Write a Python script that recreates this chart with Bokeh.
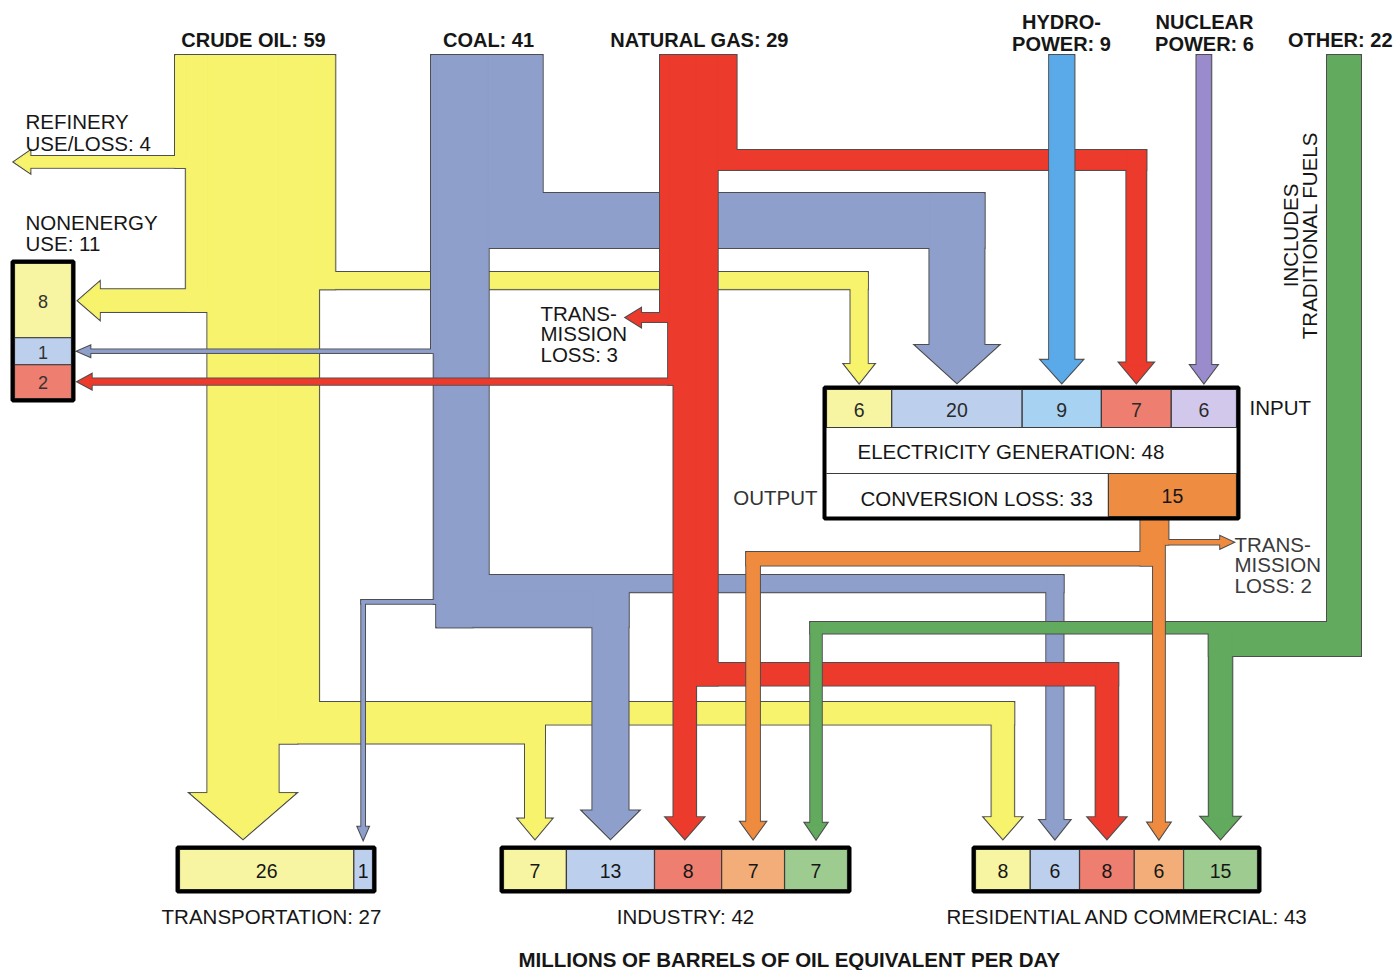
import math
from bokeh.plotting import figure
from bokeh.models import Range1d
from bokeh.embed import file_html
from bokeh.resources import INLINE
from bokeh.core.properties import value

# ---------------- data (millions of barrels of oil equivalent per day) ----------------
SOURCE_KEYS   = ["oil", "coal", "gas", "hydro", "nuclear", "other"]
SOURCE_LABELS = [["CRUDE OIL: 59"], ["COAL: 41"], ["NATURAL GAS: 29"],
                 ["HYDRO-", "POWER: 9"], ["NUCLEAR", "POWER: 6"], ["OTHER: 22"]]
SOURCE_TOTALS = [59, 41, 29, 9, 6, 22]

OIL_TO     = {"refinery": 4, "nonenergy": 8, "transportation": 26, "industry": 7, "residential": 8, "electricity": 6}
COAL_TO    = {"nonenergy": 1, "transportation": 1, "industry": 13, "residential": 6, "electricity": 20}
GAS_TO     = {"transmission": 3, "nonenergy": 2, "industry": 8, "residential": 8, "electricity": 7}
HYDRO_TO   = {"electricity": 9}
NUCLEAR_TO = {"electricity": 6}
OTHER_TO   = {"industry": 7, "residential": 15}
ELEC_TO    = {"industry": 7, "residential": 6, "transmission": 2}

ELECTRICITY_GENERATION = 48
CONVERSION_LOSS = 33
ELECTRICITY_OUTPUT = 15
REFINERY_LOSS = 4
NONENERGY_USE = 11
TRANSPORTATION_TOTAL = 27
INDUSTRY_TOTAL = 42
RESIDENTIAL_TOTAL = 43
GAS_TRANSMISSION_LOSS = 3
ELEC_TRANSMISSION_LOSS = 2

ELEC_INPUT_KEYS  = ["oil", "coal", "hydro", "gas", "nuclear"]
TRANSPORT_KEYS   = ["oil", "coal"]
INDUSTRY_KEYS    = ["oil", "coal", "gas", "elec", "other"]
RESIDENTIAL_KEYS = ["oil", "coal", "gas", "elec", "other"]
NONENERGY_KEYS   = ["oil", "coal", "gas"]

FLOWS = {"oil": OIL_TO, "coal": COAL_TO, "gas": GAS_TO, "hydro": HYDRO_TO,
         "nuclear": NUCLEAR_TO, "other": OTHER_TO, "elec": ELEC_TO}

# ---------------- styles ----------------
FLOW_COLOR = {"oil": "#F7F36C", "coal": "#8E9FCC", "gas": "#EC3A2C", "hydro": "#5AAAEA",
              "nuclear": "#9A8CCC", "other": "#62AA5E", "elec": "#EF8B3E"}
CELL_COLOR = {"oil": "#F7F5A2", "coal": "#BCD0EE", "gas": "#EE7E70", "hydro": "#A8D2F2",
              "nuclear": "#D2C8EC", "other": "#9ECB90", "elec": "#F2AD78"}
OUTPUT_CELL_COLOR = "#EE8C42"
OUTLINE = "#4E4E4E"
FONT = value("Liberation Sans")
LABEL_SIZE = "20.5px"

# ---------------- layout ----------------
SCALE = {"oil": 2.7, "coal": 2.7, "gas": 2.7, "hydro": 2.7, "nuclear": 2.3, "other": 1.5, "elec": 1.8}
COLUMN_LEFT = {"oil": 175, "coal": 431, "gas": 660, "other": 1327}
TOP = 55
TIP_BOTTOM, TIP_ELEC, TIP_NONENERGY, TIP_REFINERY = 838, 382, 78, 14
TIP_GAS_LOSS, TIP_ELEC_LOSS = 626, 1232
BOX = {"transportation": (175, 376, 845, 893), "industry": (499, 851, 845, 893),
       "residential": (971, 1261, 845, 893), "electricity": (822, 1240, 385, 520),
       "nonenergy": (10, 75, 259, 402)}
PAD = {"transportation": 2, "industry": 8, "residential": 12, "electricity": 8, "nonenergy": 3}

W, H = 1395, 970
p = figure(width=W, height=H, x_range=Range1d(0, W), y_range=Range1d(H, 0),
           output_backend="svg", toolbar_location=None, min_border=0,
           x_axis_location=None, y_axis_location=None)
p.grid.visible = False
p.outline_line_color = None
p.background_fill_color = "white"
p.border_fill_color = "white"


def split(lo, hi, vals, pad):
    wts = [v + pad for v in vals]
    tot = float(sum(wts))
    edges = [lo]
    for w in wts:
        edges.append(edges[-1] + (hi - lo) * w / tot)
    return edges


def inner(b):
    return b[0] + 4, b[1] - 4, b[2] + 4, b[3] - 4


# cell edges, derived from values
CELLS = {}
for dest, keys in [("transportation", TRANSPORT_KEYS), ("industry", INDUSTRY_KEYS),
                   ("residential", RESIDENTIAL_KEYS)]:
    x0, x1, y0, y1 = inner(BOX[dest])
    vals = [FLOWS[k][dest] for k in keys]
    CELLS[dest] = (keys, vals, split(x0, x1, vals, PAD[dest]))
ex0, ex1, ey0, ey1 = inner(BOX["electricity"])
elec_vals = [FLOWS[k]["electricity"] for k in ELEC_INPUT_KEYS]
CELLS["electricity"] = (ELEC_INPUT_KEYS, elec_vals, split(ex0, ex1, elec_vals, PAD["electricity"]))
nx0, nx1, ny0, ny1 = inner(BOX["nonenergy"])
ne_vals = [FLOWS[k]["nonenergy"] for k in NONENERGY_KEYS]
CELLS["nonenergy"] = (NONENERGY_KEYS, ne_vals, split(ny0, ny1, ne_vals, PAD["nonenergy"]))


def center(dest, src):
    keys, vals, e = CELLS[dest]
    i = keys.index(src)
    return (e[i] + e[i + 1]) / 2.0


def column(src, order, left=None):
    s = SCALE[src]
    x = COLUMN_LEFT[src] if left is None else left
    out = {}
    for k in order:
        w = FLOWS[src][k] * s
        out[k] = (x + w / 2.0, w)
        x += w
    return out


def flow(pts, w, head=True):
    polys = []
    pts = [list(q) for q in pts]
    n = len(pts)
    if head:
        (xa, ya), (xb, yb) = pts[-2], pts[-1]
        dx = (xb > xa) - (xb < xa)
        dy = (yb > ya) - (yb < ya)
        L = 10 + 0.5 * w
        wing = 3 + 0.2 * w
        bx, by = xb - dx * L, yb - dy * L
        pts[-1] = [bx + dx * 2.0, by + dy * 2.0]
        hw = w / 2.0 + wing
        if dx == 0:
            polys.append(([bx - hw, bx + hw, xb], [by, by, yb]))
        else:
            polys.append(([bx, bx, xb], [by - hw, by + hw, yb]))
    for i in range(n - 1):
        (x0, y0), (x1, y1) = pts[i], pts[i + 1]
        e0 = w / 2.0 if i > 0 else 0
        e1 = w / 2.0 if i < n - 2 else 0
        if abs(x0 - x1) < 1e-9:
            d = 1 if y1 > y0 else -1
            a, b = y0 - d * e0, y1 + d * e1
            polys.append(([x0 - w / 2, x0 + w / 2, x0 + w / 2, x0 - w / 2], [a, a, b, b]))
        else:
            d = 1 if x1 > x0 else -1
            a, b = x0 - d * e0, x1 + d * e1
            polys.append(([a, b, b, a], [y0 - w / 2, y0 - w / 2, y0 + w / 2, y0 + w / 2]))
    return polys


def draw(polys, color):
    xs = [q[0] for q in polys]
    ys = [q[1] for q in polys]
    p.patches(xs=xs, ys=ys, fill_alpha=0, line_color=OUTLINE, line_width=3, line_join="miter")
    p.patches(xs=xs, ys=ys, fill_color=color, line_color=color, line_width=1)


# ---------------- crude oil ----------------
c = column("oil", ["refinery", "nonenergy", "transportation", "industry", "residential", "electricity"])
P = []
xc, w = c["refinery"]; yc = 156 + w / 2
P += flow([(xc, TOP), (xc, yc), (TIP_REFINERY, yc)], w)
xc, w = c["nonenergy"]; yc = center("nonenergy", "oil")
P += flow([(xc, TOP), (xc, yc), (TIP_NONENERGY, yc)], w)
xc, w = c["electricity"]; yc = 272 + w / 2; xd = center("electricity", "oil")
P += flow([(xc, TOP), (xc, yc), (xd, yc), (xd, TIP_ELEC)], w)
xc, w = c["transportation"]
P += flow([(xc, TOP), (xc, TIP_BOTTOM)], w)
xr, wr = c["residential"]; yr = 702 + wr / 2; xd = center("residential", "oil")
P += flow([(xr, TOP), (xr, yr), (xd, yr), (xd, TIP_BOTTOM)], wr)
xc, w = c["industry"]; yc = 702 + wr + w / 2; xd = center("industry", "oil")
P += flow([(xc, TOP), (xc, yc), (xd, yc), (xd, TIP_BOTTOM)], w)
draw(P, FLOW_COLOR["oil"])

# ---------------- coal ----------------
c = column("coal", ["nonenergy", "transportation", "industry", "residential", "electricity"])
P = []
xc, w = c["nonenergy"]; yc = center("nonenergy", "coal")
P += flow([(xc, TOP), (xc, yc), (TIP_NONENERGY, yc)], w)
xc, w = c["transportation"]; yc = 600 + w / 2; xd = center("transportation", "coal")
P += flow([(xc, TOP), (xc, yc), (xd, yc), (xd, TIP_BOTTOM)], w)
xr, wr = c["residential"]; yr = 575 + wr / 2; xd = center("residential", "coal")
P += flow([(xr, TOP), (xr, yr), (xd, yr), (xd, TIP_BOTTOM)], wr)
xc, w = c["industry"]; yc = 575 + wr + w / 2; xd = center("industry", "coal")
P += flow([(xc, TOP), (xc, yc), (xd, yc), (xd, TIP_BOTTOM)], w)
xc, w = c["electricity"]; yc = 193 + w / 2; xd = center("electricity", "coal")
P += flow([(xc, TOP), (xc, yc), (xd, yc), (xd, TIP_ELEC)], w)
draw(P, FLOW_COLOR["coal"])

# ---------------- natural gas ----------------
c = column("gas", ["transmission", "nonenergy", "industry", "residential", "electricity"])
P = []
xc, w = c["transmission"]; yc = 313 + w / 2
P += flow([(xc, TOP), (xc, yc), (TIP_GAS_LOSS, yc)], w)
xc, w = c["nonenergy"]; yc = center("nonenergy", "gas")
P += flow([(xc, TOP), (xc, yc), (TIP_NONENERGY, yc)], w)
xc, w = c["industry"]
P += flow([(xc, TOP), (xc, TIP_BOTTOM)], w)
xc, w = c["residential"]; yc = 663 + w / 2; xd = center("residential", "gas")
P += flow([(xc, TOP), (xc, yc), (xd, yc), (xd, TIP_BOTTOM)], w)
xc, w = c["electricity"]; yc = 150 + w / 2; xd = center("electricity", "gas")
P += flow([(xc, TOP), (xc, yc), (xd, yc), (xd, TIP_ELEC)], w)
draw(P, FLOW_COLOR["gas"])

# ---------------- hydro / nuclear ----------------
for src in ["hydro", "nuclear"]:
    xd = center("electricity", src)
    w = FLOWS[src]["electricity"] * SCALE[src]
    draw(flow([(xd, TOP), (xd, TIP_ELEC)], w), FLOW_COLOR[src])

# ---------------- other ----------------
c = column("other", ["industry", "residential"])
P = []
xi, wi = c["industry"]; yi = 622 + wi / 2; xd = center("industry", "other")
P += flow([(xi, TOP), (xi, yi), (xd, yi), (xd, TIP_BOTTOM)], wi)
xr, wr = c["residential"]; yr = 622 + wi + wr / 2; xd = center("residential", "other")
P += flow([(xr, TOP), (xr, yr), (xd, yr), (xd, TIP_BOTTOM)], wr)
draw(P, FLOW_COLOR["other"])

# ---------------- electricity output ----------------
s_e = SCALE["elec"]
left_e = center("residential", "elec") - (ELEC_TO["industry"] + ELEC_TO["residential"] / 2.0) * s_e
c = column("elec", ["industry", "residential", "transmission"], left=left_e)
ETOP = 505
P = []
xc, w = c["industry"]; yc = 552 + w / 2; xd = center("industry", "elec")
P += flow([(xc, ETOP), (xc, yc), (xd, yc), (xd, TIP_BOTTOM)], w)
xc, w = c["residential"]
P += flow([(xc, ETOP), (xc, TIP_BOTTOM)], w)
xc, w = c["transmission"]; yc = 540 + w / 2
P += flow([(xc, ETOP), (xc, yc), (TIP_ELEC_LOSS, yc)], w)
draw(P, FLOW_COLOR["elec"])


# ---------------- boxes ----------------
def texts(xs, ys, labels, size=LABEL_SIZE, bold=False, align="center", color="#161616", angle=0.0):
    p.text(x=xs, y=ys, text=labels, text_font=FONT, text_font_size=value(size),
           text_font_style="bold" if bold else "normal", text_align=align,
           text_baseline="middle", text_color=color, angle=angle)


def border(b):
    p.quad(left=[b[0] + 2], right=[b[1] - 2], top=[b[2] + 2], bottom=[b[3] - 2],
           fill_alpha=0, line_color="black", line_width=4)


for dest in ["transportation", "industry", "residential"]:
    keys, vals, e = CELLS[dest]
    x0, x1, y0, y1 = inner(BOX[dest])
    p.quad(left=e[:-1], right=e[1:], top=[y0] * len(vals), bottom=[y1] * len(vals),
           fill_color=[CELL_COLOR[k] for k in keys], line_color="#3C3C3C", line_width=1.2)
    texts([(e[i] + e[i + 1]) / 2 for i in range(len(vals))], [(y0 + y1) / 2 + 1] * len(vals),
          [str(v) for v in vals], size="19.5px")
    border(BOX[dest])

# electricity generation box
keys, vals, e = CELLS["electricity"]
row1, row2 = 427, 473
p.quad(left=[ex0], right=[ex1], top=[ey0], bottom=[ey1], fill_color="white", line_alpha=0)
p.quad(left=e[:-1], right=e[1:], top=[ey0] * len(vals), bottom=[row1] * len(vals),
       fill_color=[CELL_COLOR[k] for k in keys], line_color="#3C3C3C", line_width=1.2)
texts([(e[i] + e[i + 1]) / 2 for i in range(len(vals))], [(ey0 + row1) / 2 + 1] * len(vals),
      [str(v) for v in vals], size="19.5px", color="#2A2A2A")
out_left = ex1 - (ex1 - ex0) * ELECTRICITY_OUTPUT / float(ELECTRICITY_GENERATION)
p.segment(x0=[ex0], y0=[row2], x1=[ex1], y1=[row2], line_color="#3C3C3C", line_width=1.2)
p.quad(left=[out_left], right=[ex1], top=[row2], bottom=[ey1], fill_color=OUTPUT_CELL_COLOR,
       line_color="#3C3C3C", line_width=1.2)
texts([(out_left + ex1) / 2], [(row2 + ey1) / 2 + 1], [str(ELECTRICITY_OUTPUT)], size="19.5px")
texts([857], [451], ["ELECTRICITY GENERATION: %d" % ELECTRICITY_GENERATION], align="left")
texts([860], [498], ["CONVERSION LOSS: %d" % CONVERSION_LOSS], align="left")
border(BOX["electricity"])
texts([1249], [407], ["INPUT"], align="left")
texts([817], [497], ["OUTPUT"], align="right", color="#333333")

# nonenergy box (vertical cells)
keys, vals, e = CELLS["nonenergy"]
p.quad(left=[nx0] * len(vals), right=[nx1] * len(vals), top=e[:-1], bottom=e[1:],
       fill_color=[CELL_COLOR[k] for k in keys], line_color="#3C3C3C", line_width=1.2)
texts([(nx0 + nx1) / 2] * len(vals), [(e[i] + e[i + 1]) / 2 + 1 for i in range(len(vals))],
      [str(v) for v in vals], size="18px", color="#333333")
border(BOX["nonenergy"])

# ---------------- labels ----------------
texts([253, 488, 699], [39, 39, 39], [SOURCE_LABELS[0][0], SOURCE_LABELS[1][0], SOURCE_LABELS[2][0]],
      size="20px", bold=True)
texts([1061, 1061, 1204, 1204], [21, 43, 21, 43],
      [SOURCE_LABELS[3][0], SOURCE_LABELS[3][1], SOURCE_LABELS[4][0], SOURCE_LABELS[4][1]],
      size="20px", bold=True)
texts([1392], [39], [SOURCE_LABELS[5][0]], size="20px", bold=True, align="right")
texts([1290, 1309], [235, 235], ["INCLUDES", "TRADITIONAL FUELS"], angle=math.pi / 2)

texts([25, 25], [121, 143], ["REFINERY", "USE/LOSS: %d" % REFINERY_LOSS], align="left")
texts([25, 25], [222, 243], ["NONENERGY", "USE: %d" % NONENERGY_USE], align="left")
texts([540, 540, 540], [313, 333, 354], ["TRANS-", "MISSION", "LOSS: %d" % GAS_TRANSMISSION_LOSS],
      align="left")
texts([1234, 1234, 1234], [544, 564, 585], ["TRANS-", "MISSION", "LOSS: %d" % ELEC_TRANSMISSION_LOSS],
      align="left", color="#3A3A3A")

texts([271, 685, 1127], [916, 916, 916],
      ["TRANSPORTATION: %d" % TRANSPORTATION_TOTAL, "INDUSTRY: %d" % INDUSTRY_TOTAL,
       "RESIDENTIAL AND COMMERCIAL: %d" % RESIDENTIAL_TOTAL])
texts([789], [959], ["MILLIONS OF BARRELS OF OIL EQUIVALENT PER DAY"], size="20.5px", bold=True)

open("out.html", "w").write(file_html(p, INLINE))
